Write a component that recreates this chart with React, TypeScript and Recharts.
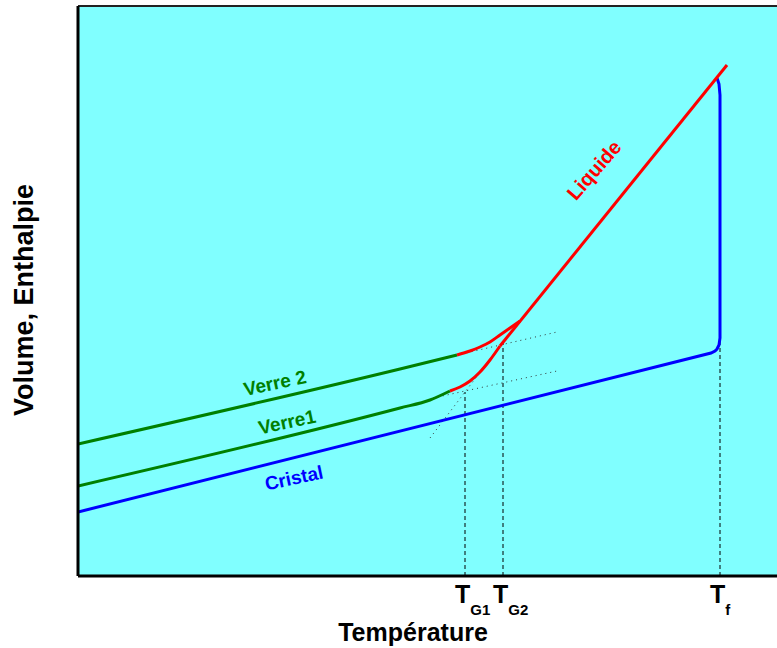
import React from 'react';
import { LineChart, Line, XAxis, YAxis, CartesianGrid, ReferenceLine, ReferenceDot } from 'recharts';

// positions, in arbitrary temperature / enthalpy units
const cristal = [
  { x: 0, y: 64 }, { x: 633, y: 223 }, { x: 637, y: 225 }, { x: 639, y: 227 }, { x: 641, y: 231 },
  { x: 642, y: 238 }, { x: 642, y: 276 }, { x: 642, y: 481 }, { x: 641, y: 492 }, { x: 639, y: 498 },
];
const verre1 = [{ x: 0, y: 90 }, { x: 322, y: 168 }, { x: 352, y: 176 }, { x: 372, y: 185 }];
const verre2 = [{ x: 0, y: 132 }, { x: 322, y: 207 }, { x: 379, y: 221 }];
const transition1 = [
  { x: 372, y: 185 }, { x: 382, y: 189 }, { x: 392, y: 195 }, { x: 402, y: 204 }, { x: 412, y: 216 }, { x: 422, y: 230 },
];
const transition2 = [
  { x: 379, y: 221 }, { x: 392, y: 225 }, { x: 402, y: 229 }, { x: 412, y: 234 }, { x: 422, y: 241 },
  { x: 432, y: 248 }, { x: 442, y: 255 },
];
const liquide = [{ x: 422, y: 230 }, { x: 649, y: 511 }];

const extVerre1 = [{ x: 355, y: 178 }, { x: 479, y: 205 }];
const extVerre2 = [{ x: 379, y: 221 }, { x: 479, y: 244 }];
const extLiquide = [{ x: 352, y: 138 }, { x: 422, y: 230 }];

const tg1 = [{ x: 387, y: 0 }, { x: 387, y: 184 }];
const tg2 = [{ x: 425, y: 0 }, { x: 425, y: 233 }];
const tf = [{ x: 642, y: 0 }, { x: 642, y: 236 }];

const tickValues = [387, 425, 642];
const tickNames: Record<number, [string, string]> = { 387: ['T', 'G1'], 425: ['T', 'G2'], 642: ['T', 'f'] };

const curveLabels = [
  { x: 516, y: 406, text: 'Liquide', color: '#FF0000', angle: -49, size: 20 },
  { x: 197, y: 193, text: 'Verre 2', color: '#008000', angle: -12, size: 19 },
  { x: 209, y: 154, text: 'Verre1', color: '#008000', angle: -12, size: 19 },
  { x: 216, y: 98, text: 'Cristal', color: '#0000FF', angle: -12, size: 19 },
];

const FONT = '"Liberation Sans", Arial, sans-serif';

const TTick = (props: any) => {
  const { x, payload } = props;
  const [main, sub] = tickNames[payload.value] || ['', ''];
  return (
    <text x={x - 10} y={603} fontFamily={FONT} fontWeight="bold" fill="#000">
      <tspan fontSize={25}>{main}</tspan>
      <tspan fontSize={15} dy={12}>{sub}</tspan>
    </text>
  );
};

const App: React.FC = () => {
  const line = (data: any[], color: string, key: string, width = 3, dash?: string, type: any = 'linear') => (
    <Line
      key={key}
      data={data}
      dataKey="y"
      type={type}
      stroke={color}
      strokeWidth={width}
      strokeDasharray={dash}
      dot={false}
      activeDot={false}
      isAnimationActive={false}
    />
  );
  return (
    <div style={{ position: 'absolute', left: 0, top: 0, width: 777, height: 648, background: '#fff' }}>
      <LineChart width={777} height={648} margin={{ top: 6, right: 0, left: 0, bottom: 0 }}>
        <CartesianGrid horizontal={false} vertical={false} fill="#80FFFF" />
        <XAxis
          type="number"
          dataKey="x"
          domain={[0, 699]}
          ticks={tickValues}
          tick={<TTick />}
          tickLine={false}
          height={72}
          axisLine={{ stroke: '#000', strokeWidth: 3 }}
          allowDataOverflow
          label={{
            content: () => (
              <text x={413} y={641} textAnchor="middle" fontFamily={FONT} fontWeight="bold" fontSize={25} fill="#000">
                Température
              </text>
            ),
          }}
        />
        <YAxis
          type="number"
          domain={[0, 570]}
          width={78}
          tick={false}
          tickLine={false}
          axisLine={{ stroke: '#000', strokeWidth: 3 }}
          allowDataOverflow
          label={{
            content: () => (
              <text
                x={33}
                y={300}
                textAnchor="middle"
                transform="rotate(-90 33 300)"
                fontFamily={FONT}
                fontWeight="bold"
                fontSize={27}
                fill="#000"
              >
                Volume, Enthalpie
              </text>
            ),
          }}
        />
        <ReferenceLine y={570} stroke="#222" strokeWidth={2} />
        {line(tg1, '#000', 'tg1', 1, '4 3')}
        {line(tg2, '#000', 'tg2', 1, '4 3')}
        {line(tf, '#000', 'tf', 1, '4 3')}
        {line(extVerre1, '#333', 'ev1', 1, '1 4')}
        {line(extVerre2, '#333', 'ev2', 1, '1 4')}
        {line(extLiquide, '#333', 'el', 1, '1 4')}
        {line(cristal, '#0000FF', 'cristal')}
        {line(verre2, '#008000', 'verre2', 3, undefined, 'monotone')}
        {line(verre1, '#008000', 'verre1', 3, undefined, 'monotone')}
        {line(transition2, '#FF0000', 't2', 3, undefined, 'monotone')}
        {line(transition1, '#FF0000', 't1', 3, undefined, 'monotone')}
        {line(liquide, '#FF0000', 'liquide')}
        {curveLabels.map((l) => (
          <ReferenceDot
            key={l.text}
            x={l.x}
            y={l.y}
            r={0}
            shape={(p: any) => (
              <text
                x={p.cx}
                y={p.cy}
                textAnchor="middle"
                dominantBaseline="central"
                transform={`rotate(${l.angle} ${p.cx} ${p.cy})`}
                fontFamily={FONT}
                fontWeight="bold"
                fontSize={l.size}
                fill={l.color}
              >
                {l.text}
              </text>
            )}
          />
        ))}
      </LineChart>
    </div>
  );
};

export default App;
